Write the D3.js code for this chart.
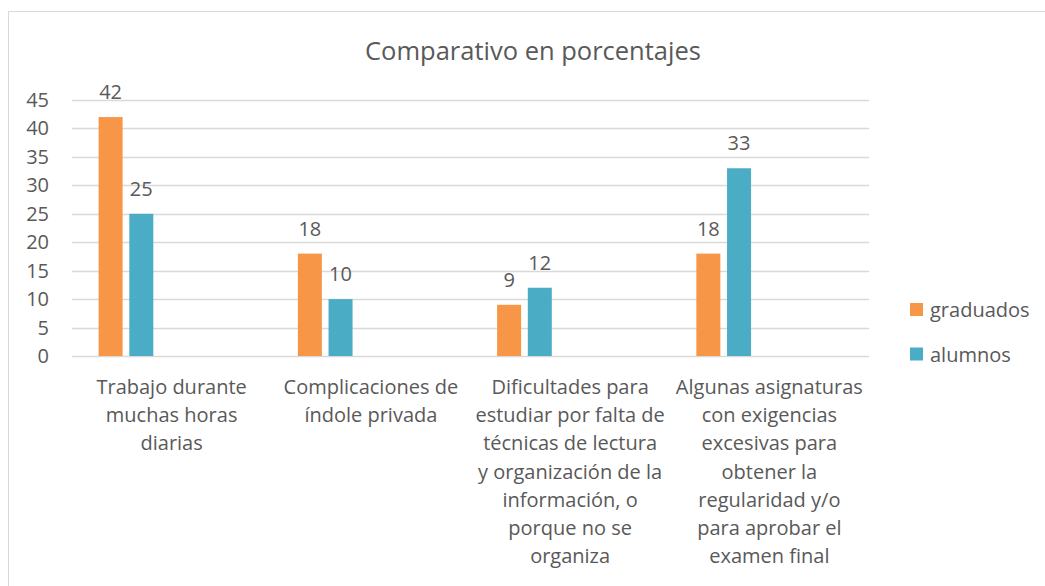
<!DOCTYPE html>
<html>
<head>
    <meta charset="utf-8">
    <title>Comparativo en porcentajes</title>
    <script src="https://d3js.org/d3.v7.min.js"></script>
    <style>
        body { margin: 0; background: #fff; }
        text { font-family: "Open Sans", sans-serif; fill: #595959; }
    </style>
</head>
<body>
    <svg id="chart"></svg>

    <script>
        // Data values
        const categories = [
            ['Trabajo durante', 'muchas horas', 'diarias'],
            ['Complicaciones de', 'índole privada'],
            ['Dificultades para', 'estudiar por falta de', 'técnicas de lectura', 'y organización de la', 'información, o', 'porque no se', 'organiza'],
            ['Algunas asignaturas', 'con exigencias', 'excesivas para', 'obtener la', 'regularidad y/o', 'para aprobar el', 'examen final']
        ];
        const seriesNames = ['graduados', 'alumnos'];
        const graduados = [42, 18, 9, 18];
        const alumnos = [25, 10, 12, 33];
        const yTicks = [0, 5, 10, 15, 20, 25, 30, 35, 40, 45];
        const colors = ['#F79646', '#4BACC6'];

        const width = 1045;
        const height = 586;
        const plotLeft = 72, plotRight = 869;
        const plotTop = 100, plotBottom = 356;

        const chart = d3.select('#chart')
            .attr('width', width)
            .attr('height', height);

        // Chart border
        chart.append('rect')
            .attr('x', 8.5).attr('y', 11.5)
            .attr('width', 1060).attr('height', 600)
            .attr('fill', 'none')
            .attr('stroke', '#D9D9D9');

        // Title
        chart.append('text')
            .attr('x', 533).attr('y', 60)
            .attr('text-anchor', 'middle')
            .style('font-size', '25.5px')
            .text('Comparativo en porcentajes');

        // Scales
        const xScale = d3.scaleBand()
            .domain(d3.range(categories.length))
            .range([plotLeft, plotRight]);

        const xSub = d3.scaleBand()
            .domain(seriesNames)
            .range([26.6, 81.3])
            .paddingInner(0.218);

        const yScale = d3.scaleLinear()
            .domain([0, 45])
            .range([plotBottom, plotTop]);

        // Gridlines
        chart.selectAll('.grid')
            .data(yTicks)
            .enter()
            .append('line')
            .attr('x1', plotLeft).attr('x2', plotRight)
            .attr('y1', d => Math.round(yScale(d)) + 0.5)
            .attr('y2', d => Math.round(yScale(d)) + 0.5)
            .attr('stroke', '#D9D9D9')
            .attr('stroke-width', 1.5);

        // Y tick labels
        chart.selectAll('.ytick')
            .data(yTicks)
            .enter()
            .append('text')
            .attr('x', 49)
            .attr('y', d => yScale(d) + 7)
            .attr('text-anchor', 'end')
            .style('font-size', '20px')
            .text(d => d);

        // Bars and value labels
        const series = [graduados, alumnos];
        series.forEach((vals, si) => {
            const name = seriesNames[si];
            chart.selectAll('.bar-' + name)
                .data(vals)
                .enter()
                .append('rect')
                .attr('x', (d, i) => xScale(i) + xSub(name))
                .attr('y', d => yScale(d))
                .attr('width', xSub.bandwidth())
                .attr('height', d => plotBottom - yScale(d))
                .attr('fill', colors[si]);

            chart.selectAll('.label-' + name)
                .data(vals)
                .enter()
                .append('text')
                .attr('x', (d, i) => xScale(i) + xSub(name) + xSub.bandwidth() / 2)
                .attr('y', d => yScale(d) - 18)
                .attr('text-anchor', 'middle')
                .style('font-size', '20px')
                .text(d => d);
        });

        // Category labels
        categories.forEach((lines, i) => {
            const t = chart.append('text')
                .attr('text-anchor', 'middle')
                .style('font-size', '20px');
            lines.forEach((line, j) => {
                t.append('tspan')
                    .attr('x', xScale(i) + xScale.bandwidth() / 2)
                    .attr('y', 394 + j * 28.2)
                    .text(line);
            });
        });

        // Legend
        const legend = chart.selectAll('.legend')
            .data(seriesNames)
            .enter()
            .append('g')
            .attr('transform', (d, i) => `translate(910, ${303 + i * 44.5})`);

        legend.append('rect')
            .attr('width', 13).attr('height', 13)
            .attr('fill', (d, i) => colors[i]);

        legend.append('text')
            .attr('x', 20).attr('y', 14)
            .style('font-size', '20px')
            .text(d => d);
    </script>
</body>
</html>
